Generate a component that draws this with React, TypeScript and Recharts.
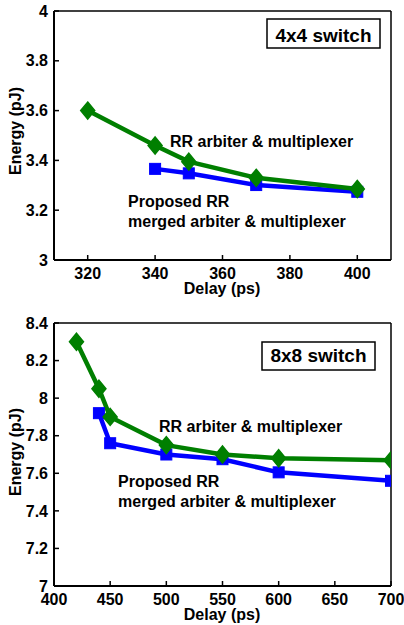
import { LineChart, Line, XAxis, YAxis } from "recharts";

// 4x4 switch
const delay4Rr = [320, 340, 350, 370, 400];
const energy4Rr = [3.6, 3.46, 3.395, 3.33, 3.285];
const delay4Prop = [340, 350, 370, 400];
const energy4Prop = [3.366, 3.348, 3.301, 3.274];
const xTicks4 = [320, 340, 360, 380, 400];
const yTicks4 = [3, 3.2, 3.4, 3.6, 3.8, 4];

// 8x8 switch
const delay8Rr = [420, 440, 450, 500, 550, 600, 700];
const energy8Rr = [8.3, 8.05, 7.9, 7.75, 7.7, 7.68, 7.67];
const delay8Prop = [440, 450, 500, 550, 600, 700];
const energy8Prop = [7.92, 7.76, 7.7, 7.675, 7.605, 7.56];
const xTicks8 = [400, 450, 500, 550, 600, 650, 700];
const yTicks8 = [7, 7.2, 7.4, 7.6, 7.8, 8, 8.2, 8.4];

const GREEN = "#007f00";
const BLUE = "#0000ff";
const FONT = "'Liberation Sans', Arial, sans-serif";

const zip = (xs: number[], ys: number[]) => xs.map((x, i) => ({ x, y: ys[i] }));

const Diamond = (props: any) => {
  const { cx, cy, index } = props;
  if (cx == null || cy == null) return <g key={`dm-${index}`} />;
  return (
    <path
      key={`dm-${index}`}
      d={`M${cx},${cy - 8.5} L${cx + 7},${cy} L${cx},${cy + 8.5} L${cx - 7},${cy} Z`}
      fill={GREEN}
      stroke={GREEN}
      strokeWidth={1.5}
    />
  );
};

const Square = (props: any) => {
  const { cx, cy, index } = props;
  if (cx == null || cy == null) return <g key={`sq-${index}`} />;
  return <rect key={`sq-${index}`} x={cx - 5.5} y={cy - 5.5} width={11} height={11} fill={BLUE} stroke={BLUE} strokeWidth={1} />;
};

const tickStyle = { fontSize: 16, fontWeight: "bold", fill: "#000", fontFamily: FONT };
const noTick = () => <g />;

type PanelProps = {
  title: string;
  rr: { x: number; y: number }[];
  prop: { x: number; y: number }[];
  xDomain: [number, number];
  xTicks: number[];
  yDomain: [number, number];
  yTicks: number[];
  height: number;
  marginTop: number;
  xAxisHeight: number;
  xTickMargin: number;
  box: { x: number; y: number; w: number; h: number; base: number };
  rrText: { x: number; y: number };
  propText: { x: number; y: number };
  xLabelY: number;
  yLabelY: number;
};

function Panel(p: PanelProps) {
  return (
    <div style={{ position: "relative", width: 404, height: p.height }}>
      <LineChart
        width={404}
        height={p.height}
        margin={{ top: p.marginTop - 1, right: 12, bottom: 0, left: 0 }}
        style={{ fontFamily: FONT }}
      >
        <XAxis
          xAxisId="b"
          type="number"
          dataKey="x"
          domain={p.xDomain}
          ticks={p.xTicks}
          allowDataOverflow
          height={p.xAxisHeight}
          tickSize={-5}
          tickMargin={p.xTickMargin}
          tick={tickStyle}
          axisLine={{ stroke: "#000", strokeWidth: 2 }}
          tickLine={{ stroke: "#000", strokeWidth: 1.5 }}
        />
        <XAxis
          xAxisId="t"
          orientation="top"
          type="number"
          dataKey="x"
          domain={p.xDomain}
          ticks={p.xTicks}
          height={1}
          tickSize={-5}
          tick={noTick}
          axisLine={{ stroke: "#000", strokeWidth: 1.5 }}
          tickLine={{ stroke: "#000", strokeWidth: 1.5 }}
        />
        <YAxis
          yAxisId="l"
          type="number"
          domain={p.yDomain}
          ticks={p.yTicks}
          width={54}
          tickSize={-5}
          tickMargin={11}
          tick={tickStyle}
          axisLine={{ stroke: "#000", strokeWidth: 2 }}
          tickLine={{ stroke: "#000", strokeWidth: 1.5 }}
        />
        <YAxis
          yAxisId="r"
          orientation="right"
          type="number"
          domain={p.yDomain}
          ticks={p.yTicks}
          width={1}
          tickSize={-5}
          tick={noTick}
          axisLine={{ stroke: "#000", strokeWidth: 1.5 }}
          tickLine={{ stroke: "#000", strokeWidth: 1.5 }}
        />
        <Line
          xAxisId="b"
          yAxisId="l"
          data={p.prop}
          dataKey="y"
          stroke={BLUE}
          strokeWidth={4.5}
          dot={Square}
          activeDot={false}
          isAnimationActive={false}
        />
        <Line
          xAxisId="b"
          yAxisId="l"
          data={p.rr}
          dataKey="y"
          stroke={GREEN}
          strokeWidth={4.5}
          dot={Diamond}
          activeDot={false}
          isAnimationActive={false}
        />
      </LineChart>
      <svg
        width={404}
        height={p.height}
        style={{ position: "absolute", left: 0, top: 0, pointerEvents: "none" }}
        fontFamily={FONT}
        fontWeight="bold"
      >
        <rect x={p.box.x} y={p.box.y} width={p.box.w} height={p.box.h} fill="#fff" stroke="#000" strokeWidth={1.5} />
        <text x={p.box.x + p.box.w / 2} y={p.box.base} fontSize={19} textAnchor="middle">
          {p.title}
        </text>
        <text x={p.rrText.x} y={p.rrText.y} fontSize={16}>
          RR arbiter &amp; multiplexer
        </text>
        <text x={p.propText.x} y={p.propText.y} fontSize={16}>
          Proposed RR
        </text>
        <text x={p.propText.x} y={p.propText.y + 20} fontSize={16}>
          merged arbiter &amp; multiplexer
        </text>
        <text x={222} y={p.xLabelY} fontSize={16} textAnchor="middle">
          Delay (ps)
        </text>
        <text
          x={15}
          y={p.yLabelY}
          fontSize={16}
          textAnchor="middle"
          dominantBaseline="central"
          transform={`rotate(-90, 15, ${p.yLabelY})`}
        >
          Energy (pJ)
        </text>
      </svg>
    </div>
  );
}

export default function App() {
  return (
    <div style={{ position: "absolute", left: 0, top: 0, width: 404, height: 625, background: "#fff" }}>
      <Panel
        title="4x4 switch"
        rr={zip(delay4Rr, energy4Rr)}
        prop={zip(delay4Prop, energy4Prop)}
        xDomain={[310, 410]}
        xTicks={xTicks4}
        yDomain={[3, 4]}
        yTicks={yTicks4}
        height={310}
        marginTop={11}
        xAxisHeight={50}
        xTickMargin={13}
        box={{ x: 267, y: 19, w: 113, h: 29, base: 41.5 }}
        rrText={{ x: 170, y: 147 }}
        propText={{ x: 128, y: 207 }}
        xLabelY={294}
        yLabelY={131}
      />
      <Panel
        title="8x8 switch"
        rr={zip(delay8Rr, energy8Rr)}
        prop={zip(delay8Prop, energy8Prop)}
        xDomain={[400, 700]}
        xTicks={xTicks8}
        yDomain={[7, 8.4]}
        yTicks={yTicks8}
        height={315}
        marginTop={13}
        xAxisHeight={39}
        xTickMargin={13}
        box={{ x: 262, y: 32, w: 113, h: 28, base: 51.5 }}
        rrText={{ x: 159, y: 122 }}
        propText={{ x: 118, y: 177 }}
        xLabelY={310}
        yLabelY={142}
      />
    </div>
  );
}
